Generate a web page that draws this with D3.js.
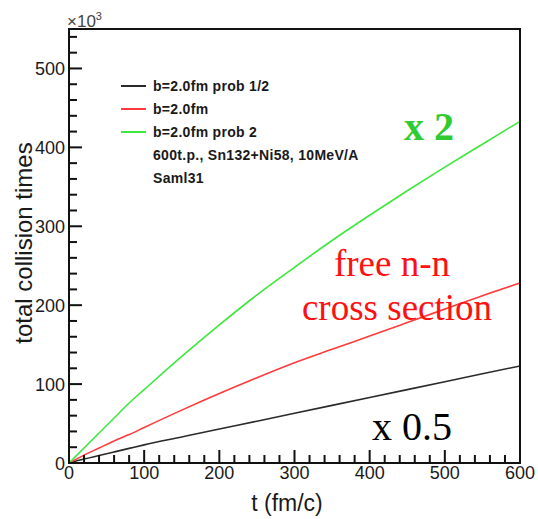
<!DOCTYPE html>
<html>
<head>
<meta charset="utf-8">
<script src="https://cdn.jsdelivr.net/npm/d3@7"></script>
<style>
  html, body { margin: 0; padding: 0; background: #fff; }
  svg { display: block; }
</style>
</head>
<body>
<svg id="chart" width="538" height="519"></svg>
<script>
// time axis (fm/c) and cumulative collision counts (x10^3)
const tValues  = [0, 20, 40, 60, 80, 100, 150, 200, 250, 300, 350, 400, 450, 500, 550, 600];
const probHalf = [0, 5, 9.5, 14, 18.5, 23, 33, 43, 53, 63, 73, 83, 93, 103, 113, 123];
const freeNN   = [0, 10, 19, 28, 36, 45, 67, 88, 108, 127, 144, 161, 178, 195, 212, 228];
const probTwo  = [0, 19, 38, 57, 76, 93, 135, 175, 213, 248, 282, 314, 345, 375, 404, 433];

const seriesNames  = ["b=2.0fm prob 1/2", "b=2.0fm", "b=2.0fm prob 2"];
const seriesColors = ["#2a2a2a", "#ff3b3b", "#3ee83e"];
const infoLines    = ["600t.p., Sn132+Ni58, 10MeV/A", "Saml31"];

const xMajor = [0, 100, 200, 300, 400, 500, 600];
const yMajor = [0, 100, 200, 300, 400, 500];

const svg = d3.select("#chart");
const plotLeft = 69, plotRight = 520, plotTop = 29, plotBottom = 463;

const x = d3.scaleLinear().domain([0, 600]).range([plotLeft, plotRight]);
const y = d3.scaleLinear().domain([0, 550]).range([plotBottom, plotTop]);

// curves
const series = [probHalf, freeNN, probTwo];
const line = d3.line()
  .x((d, i) => x(tValues[i]))
  .y(d => y(d))
  .curve(d3.curveMonotoneX);

svg.append("g").selectAll("path")
  .data(series)
  .join("path")
  .attr("d", d => line(d))
  .attr("fill", "none")
  .attr("stroke", (d, i) => seriesColors[i])
  .attr("stroke-width", 1.6);

// frame
svg.append("rect")
  .attr("x", plotLeft).attr("y", plotTop)
  .attr("width", plotRight - plotLeft).attr("height", plotBottom - plotTop)
  .attr("fill", "none").attr("stroke", "#111").attr("stroke-width", 2);

// inward ticks
const xMinor = d3.range(0, 601, 20).filter(v => v % 100 !== 0);
const yMinor = d3.range(0, 541, 20).filter(v => v % 100 !== 0);

const tickG = svg.append("g").attr("stroke", "#111").attr("stroke-width", 2);
tickG.selectAll(".xmaj").data(xMajor).join("line").attr("class", "xmaj")
  .attr("x1", d => x(d)).attr("x2", d => x(d))
  .attr("y1", plotBottom).attr("y2", plotBottom - 13);
tickG.selectAll(".xmin").data(xMinor).join("line").attr("class", "xmin")
  .attr("x1", d => x(d)).attr("x2", d => x(d))
  .attr("y1", plotBottom).attr("y2", plotBottom - 8);
tickG.selectAll(".ymaj").data(yMajor).join("line").attr("class", "ymaj")
  .attr("y1", d => y(d)).attr("y2", d => y(d))
  .attr("x1", plotLeft).attr("x2", plotLeft + 13);
tickG.selectAll(".ymin").data(yMinor).join("line").attr("class", "ymin")
  .attr("y1", d => y(d)).attr("y2", d => y(d))
  .attr("x1", plotLeft).attr("x2", plotLeft + 8);

// tick labels
const labelFont = "'Liberation Sans', Arial, sans-serif";
svg.append("g").selectAll("text")
  .data(xMajor).join("text")
  .attr("x", d => x(d)).attr("y", 479)
  .attr("text-anchor", "middle")
  .attr("font-family", labelFont).attr("font-size", 18)
  .attr("fill", "#1a1a1a")
  .text(d => d);

svg.append("g").selectAll("text")
  .data(yMajor).join("text")
  .attr("x", 65).attr("y", d => y(d) + 7)
  .attr("text-anchor", "end")
  .attr("font-family", labelFont).attr("font-size", 18)
  .attr("fill", "#1a1a1a")
  .text(d => d);

// axis multiplier
const mult = svg.append("text")
  .attr("x", 67).attr("y", 27)
  .attr("font-family", labelFont).attr("font-size", 17)
  .attr("fill", "#444");
mult.append("tspan").text("\u00d710");
mult.append("tspan").attr("font-size", 11).attr("dy", -7).text("3");

// axis titles
svg.append("text")
  .attr("x", 287).attr("y", 511)
  .attr("text-anchor", "middle")
  .attr("font-family", labelFont).attr("font-size", 23)
  .attr("fill", "#1a1a1a")
  .text("t (fm/c)");

svg.append("text")
  .attr("transform", "translate(32,243) rotate(-90)")
  .attr("text-anchor", "middle")
  .attr("font-family", labelFont).attr("font-size", 24)
  .attr("fill", "#1a1a1a")
  .text("total collision times");

// legend
const legendY = d3.scaleLinear().domain([0, 1]).range([86, 109]);
const legend = svg.append("g");
legend.selectAll("line")
  .data(seriesNames).join("line")
  .attr("x1", 121).attr("x2", 146)
  .attr("y1", (d, i) => legendY(i)).attr("y2", (d, i) => legendY(i))
  .attr("stroke", (d, i) => seriesColors[i]).attr("stroke-width", 2);
legend.selectAll("text")
  .data(seriesNames.concat(infoLines)).join("text")
  .attr("x", 153).attr("y", (d, i) => legendY(i) + 5)
  .attr("font-family", labelFont).attr("font-size", 14).attr("font-weight", "bold")
  .attr("letter-spacing", 0.3)
  .attr("fill", "#1a1a1a")
  .text(d => d);

// annotations
const serif = "'Liberation Serif', 'Times New Roman', serif";
svg.append("text")
  .attr("x", 429).attr("y", 140)
  .attr("text-anchor", "middle")
  .attr("font-family", serif).attr("font-size", 40).attr("font-weight", "bold")
  .attr("fill", "#2ecc2e")
  .text("x 2");

svg.append("text")
  .attr("x", 392).attr("y", 276)
  .attr("text-anchor", "middle")
  .attr("font-family", serif).attr("font-size", 37)
  .attr("fill", "#ff1010")
  .text("free n-n");
svg.append("text")
  .attr("x", 397).attr("y", 320)
  .attr("text-anchor", "middle")
  .attr("font-family", serif).attr("font-size", 37)
  .attr("fill", "#ff1010")
  .text("cross section");

svg.append("text")
  .attr("x", 412).attr("y", 440)
  .attr("text-anchor", "middle")
  .attr("font-family", serif).attr("font-size", 40)
  .attr("fill", "#000")
  .text("x 0.5");
</script>
</body>
</html>
